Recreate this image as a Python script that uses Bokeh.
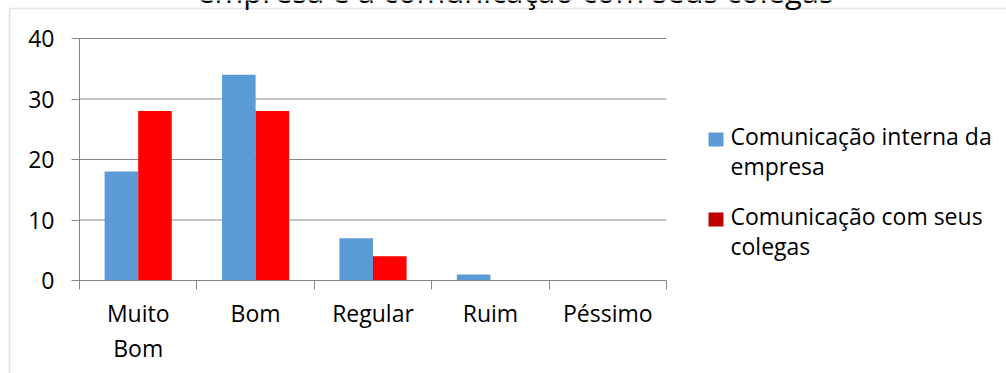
from bokeh.plotting import figure
from bokeh.models import (Range1d, FixedTicker, LinearAxis, Label,
                          BoxAnnotation, PolyAnnotation, ColumnDataSource)
from bokeh.transform import dodge
from bokeh.embed import file_html
from bokeh.resources import INLINE

# --- data -------------------------------------------------------------
categories = ["Muito\nBom", "Bom", "Regular", "Ruim", "Péssimo"]
interna = [18, 34, 7, 1, 0]      # Comunicação interna da empresa
colegas = [28, 28, 4, 0, 0]      # Comunicação com seus colegas
series_names = ["Comunicação interna da\nempresa", "Comunicação com seus\ncolegas"]
y_ticks = [0, 10, 20, 30, 40]
title_text = "empresa e a comunicação com seus colegas"

# --- style / layout ---------------------------------------------------
FONT = "Open Sans"
FS_PX = 23
FS = f"{FS_PX}px"
TITLE_PX = 31
AXIS_GREY = "#868686"
BLUE = "#5B9BD5"
RED = "#FF0000"
LEGEND_RED = "#C00000"

W, H = 1006, 373
# plot area in canvas pixels
LEFT, RIGHT, TOP, BOTTOM = 79, 666, 38, 280

n = len(categories)
bar_w = 0.286
y_max = y_ticks[-1]

# the frame fills the whole canvas; ranges are chosen so that the
# category/value area lands on the plot-area rectangle above
XU = (RIGHT - LEFT) / n
YU = (BOTTOM - TOP) / y_max

p = figure(width=W, height=H, output_backend="svg", toolbar_location=None,
           x_range=Range1d(-LEFT / XU, (W - LEFT) / XU),
           y_range=Range1d(-(H - BOTTOM) / YU, BOTTOM / YU),
           x_axis_type=None, y_axis_type=None, min_border=0)
p.outline_line_color = None
p.background_fill_color = "white"
p.border_fill_color = "white"
p.xgrid.visible = False
p.ygrid.visible = False


def sx(cx):
    return cx


def sy(cy):
    return H - cy


def baseline(cy, px):
    # Label anchors sit a little below the glyph baseline; lift to the wanted line
    return sy(cy - 0.41 * px)


# horizontal gridlines across the category area
p.segment(x0=[0] * len(y_ticks), x1=[n] * len(y_ticks), y0=y_ticks, y1=y_ticks,
          line_color=AXIS_GREY, line_width=1)

source = ColumnDataSource(dict(
    pos=[i + 0.5 for i in range(n)],
    interna=interna,
    colegas=colegas,
))

p.vbar(x=dodge("pos", -bar_w / 2), top="interna", bottom=0, width=bar_w,
       source=source, fill_color=BLUE, line_color=None)
p.vbar(x=dodge("pos", bar_w / 2), top="colegas", bottom=0, width=bar_w,
       source=source, fill_color=RED, line_color=None)

# value axis, pinned at the left edge of the category area
yaxis = LinearAxis(ticker=FixedTicker(ticks=y_ticks), fixed_location=0, bounds=(0, y_max),
                   axis_line_color=AXIS_GREY, axis_line_width=1,
                   major_tick_line_color=AXIS_GREY, major_tick_out=8, major_tick_in=0,
                   minor_tick_line_color=None,
                   major_label_text_font=FONT, major_label_text_font_size=FS,
                   major_label_text_color="black", major_label_standoff=17)
p.add_layout(yaxis, "left")

# category axis: labels at centres, tick marks at category boundaries
centres = [i + 0.5 for i in range(n)]
xaxis = LinearAxis(ticker=FixedTicker(ticks=centres, minor_ticks=list(range(n + 1))),
                   fixed_location=0, bounds=(0, n),
                   major_label_overrides={c: lab for c, lab in zip(centres, categories)},
                   axis_line_color=AXIS_GREY, axis_line_width=1,
                   major_tick_line_color=None, major_tick_out=0, major_tick_in=0,
                   minor_tick_line_color=AXIS_GREY, minor_tick_out=9, minor_tick_in=0,
                   major_label_text_font=FONT, major_label_text_font_size=FS,
                   major_label_text_color="black", major_label_standoff=7,
                   major_label_text_line_height=1.1)
p.add_layout(xaxis, "below")

# chart area border (top and left edges)
p.add_layout(PolyAnnotation(xs=[sx(9), sx(9), sx(1100), sx(1100)],
                            ys=[sy(1000), sy(8), sy(8), sy(1000)],
                            xs_units="screen", ys_units="screen",
                            fill_alpha=0, line_color="#a6a6a6", line_width=1.5))

# title (second line of the chart title, its upper part runs off the top)
p.add_layout(Label(x=sx(515), y=baseline(3, TITLE_PX), x_units="screen", y_units="screen",
                   text=title_text, text_font=FONT, text_font_size=f"{TITLE_PX}px",
                   text_color="black", text_align="center", text_baseline="alphabetic"))

# legend
legend_colors = [BLUE, LEGEND_RED]
entry_baselines = [145, 225]
line_gap = 30
for name, col, base in zip(series_names, legend_colors, entry_baselines):
    p.add_layout(BoxAnnotation(left=sx(708), right=sx(723),
                               top=sy(base - 13), bottom=sy(base + 1),
                               left_units="screen", right_units="screen",
                               top_units="screen", bottom_units="screen",
                               fill_color=col, fill_alpha=1, line_color=None))
    for k, line in enumerate(name.split("\n")):
        p.add_layout(Label(x=sx(730), y=baseline(base + k * line_gap, FS_PX),
                           x_units="screen", y_units="screen",
                           text=line, text_font=FONT, text_font_size=FS,
                           text_color="black", text_baseline="alphabetic"))

open("out.html", "w").write(file_html(p, INLINE))
